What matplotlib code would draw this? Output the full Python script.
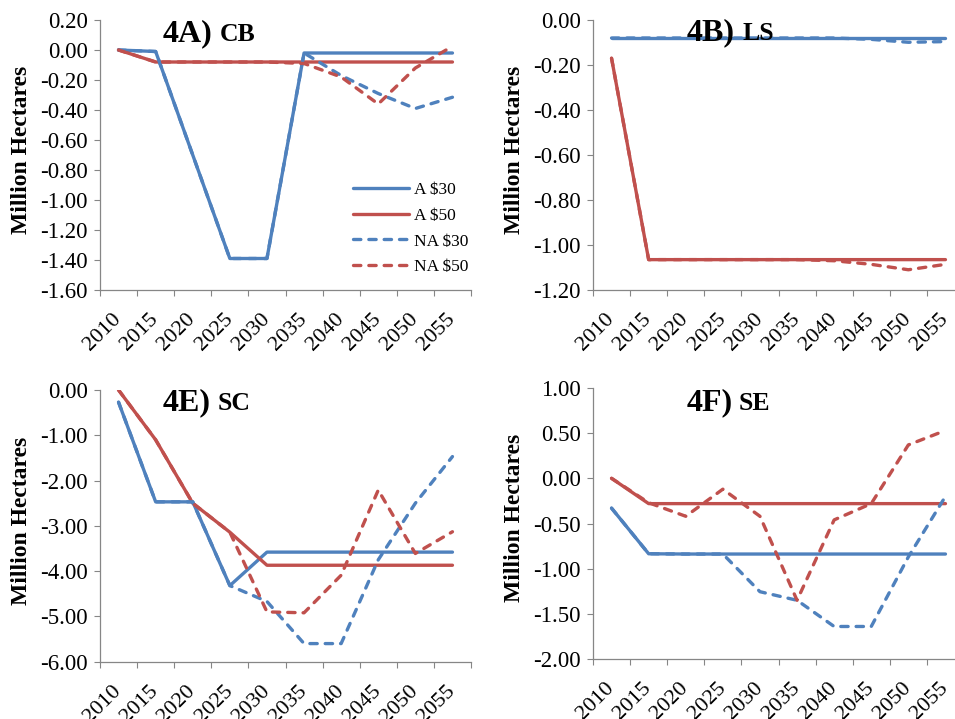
import matplotlib
matplotlib.use("Agg")
import matplotlib.pyplot as plt
import numpy as np

plt.rcParams['font.family'] = ['Liberation Serif', 'DejaVu Serif']

years = ["2010", "2015", "2020", "2025", "2030", "2035", "2040", "2045", "2050", "2055"]
series_names = ["A $30", "A $50", "NA $30", "NA $50"]

# Panel 4A) CB
cb_a30 = [0.00, -0.01, -0.70, -1.39, -1.39, -0.02, -0.02, -0.02, -0.02, -0.02]
cb_a50 = [0.00, -0.08, -0.08, -0.08, -0.08, -0.08, -0.08, -0.08, -0.08, -0.08]
cb_na30 = [0.00, -0.01, -0.70, -1.39, -1.39, -0.02, -0.17, -0.29, -0.39, -0.315]
cb_na50 = [0.00, -0.08, -0.08, -0.08, -0.08, -0.09, -0.18, -0.36, -0.12, 0.025]

# Panel 4B) LS
ls_a30 = [-0.08, -0.08, -0.08, -0.08, -0.08, -0.08, -0.08, -0.08, -0.08, -0.08]
ls_a50 = [-0.17, -1.065, -1.065, -1.065, -1.065, -1.065, -1.065, -1.065, -1.065, -1.065]
ls_na30 = [-0.08, -0.08, -0.08, -0.08, -0.08, -0.08, -0.08, -0.086, -0.099, -0.096]
ls_na50 = [-0.17, -1.065, -1.065, -1.065, -1.065, -1.065, -1.07, -1.086, -1.11, -1.086]

# Panel 4E) SC
sc_a30 = [-0.27, -2.47, -2.47, -4.32, -3.58, -3.58, -3.58, -3.58, -3.58, -3.58]
sc_a50 = [0.00, -1.10, -2.50, -3.14, -3.87, -3.87, -3.87, -3.87, -3.87, -3.87]
sc_na30 = [-0.27, -2.47, -2.47, -4.32, -4.67, -5.60, -5.60, -3.75, -2.50, -1.47]
sc_na50 = [0.00, -1.10, -2.50, -3.14, -4.90, -4.92, -4.09, -2.21, -3.61, -3.13]

# Panel 4F) SE
se_a30 = [-0.33, -0.835, -0.838, -0.838, -0.838, -0.838, -0.838, -0.838, -0.838, -0.838]
se_a50 = [0.00, -0.28, -0.28, -0.28, -0.28, -0.28, -0.28, -0.28, -0.28, -0.28]
se_na30 = [-0.33, -0.835, -0.838, -0.838, -1.255, -1.35, -1.64, -1.64, -0.87, -0.20]
se_na50 = [0.00, -0.27, -0.42, -0.12, -0.42, -1.35, -0.46, -0.28, 0.37, 0.53]

panels = [
    dict(big="4A)", small="CB", data=[cb_a30, cb_a50, cb_na30, cb_na50],
         ylim=(-1.60, 0.20), ticks=np.arange(-1.6, 0.2001, 0.2),
         rect=[100, 20, 371, 270], t1=(163, 41), t2=(220, 41), legend=True),
    dict(big="4B)", small="LS", data=[ls_a30, ls_a50, ls_na30, ls_na50],
         ylim=(-1.20, 0.00), ticks=np.arange(-1.2, 0.0001, 0.2),
         rect=[593, 20, 371, 270], t1=(687, 40), t2=(742, 40), legend=False),
    dict(big="4E)", small="SC", data=[sc_a30, sc_a50, sc_na30, sc_na50],
         ylim=(-6.0, 0.0), ticks=np.arange(-6, 0.001, 1.0),
         rect=[100, 390, 371, 271.7], t1=(163, 410), t2=(218, 410), legend=False),
    dict(big="4F)", small="SE", data=[se_a30, se_a50, se_na30, se_na50],
         ylim=(-2.0, 1.0), ticks=np.arange(-2, 1.001, 0.5),
         rect=[593, 388, 371, 271], t1=(687, 410), t2=(739, 410), legend=False),
]

W, H = 955, 719
fig = plt.figure(figsize=(W / 100, H / 100), dpi=100)

blue = "#4F81BD"
red = "#C0504D"
colors = [blue, red, blue, red]
dash = (0, (2.2, 2.4))
styles = ["-", "-", dash, dash]
gray = "#868686"
x = np.arange(len(years))

for p in panels:
    l, t, w, h = p["rect"]
    ax = fig.add_axes([l / W, 1 - (t + h) / H, w / W, h / H])
    for vals, c, ls, name in zip(p["data"], colors, styles, series_names):
        ax.plot(x, vals, color=c, lw=2.4, linestyle=ls, label=name,
                solid_capstyle="round", dash_capstyle="round", solid_joinstyle="round")
    ax.set_xlim(-0.5, len(years) - 0.5)
    ax.set_ylim(*p["ylim"])
    ax.set_yticks(p["ticks"])
    ax.set_yticklabels(["{:.2f}".format(v) if abs(v) > 1e-9 else "0.00" for v in p["ticks"]],
                       fontsize=16.5)
    ax.set_xticks(np.arange(-0.5, len(years), 1.0))
    ax.set_xticklabels([])
    ax.set_xticks(x, minor=True)
    ax.set_xticklabels(years, minor=True, rotation=45, ha="right", va="center",
                       rotation_mode="anchor", fontsize=16)
    ax.tick_params(axis="x", which="minor", length=0, pad=19)
    ax.tick_params(axis="x", which="major", length=4, width=0.8, color=gray, direction="out")
    ax.tick_params(axis="y", length=4, width=0.8, color=gray, direction="out", pad=5)
    for s in ["top", "right"]:
        ax.spines[s].set_visible(False)
    for s in ["left", "bottom"]:
        ax.spines[s].set_color(gray)
        ax.spines[s].set_linewidth(0.9)
    ax.set_ylabel("Million Hectares", fontsize=17, fontweight="bold")
    ax.yaxis.set_label_coords(-68 / w, 0.52)
    # titles
    bx, by = p["t1"]
    sx, sy = p["t2"]
    fig.text(bx / W, 1 - by / H, p["big"], fontsize=23, fontweight="bold",
             ha="left", va="baseline")
    fig.text(sx / W, 1 - sy / H, p["small"], fontsize=18.5, fontweight="bold",
             ha="left", va="baseline")
    if p["legend"]:
        ax.legend(loc="upper left", bbox_to_anchor=((346 - l) / w, 1 - (175 - t) / h),
                  frameon=False, fontsize=12.5, handlelength=3.2, handletextpad=0.3,
                  labelspacing=0.55, borderaxespad=0)

fig.savefig("out.png", dpi=100)
